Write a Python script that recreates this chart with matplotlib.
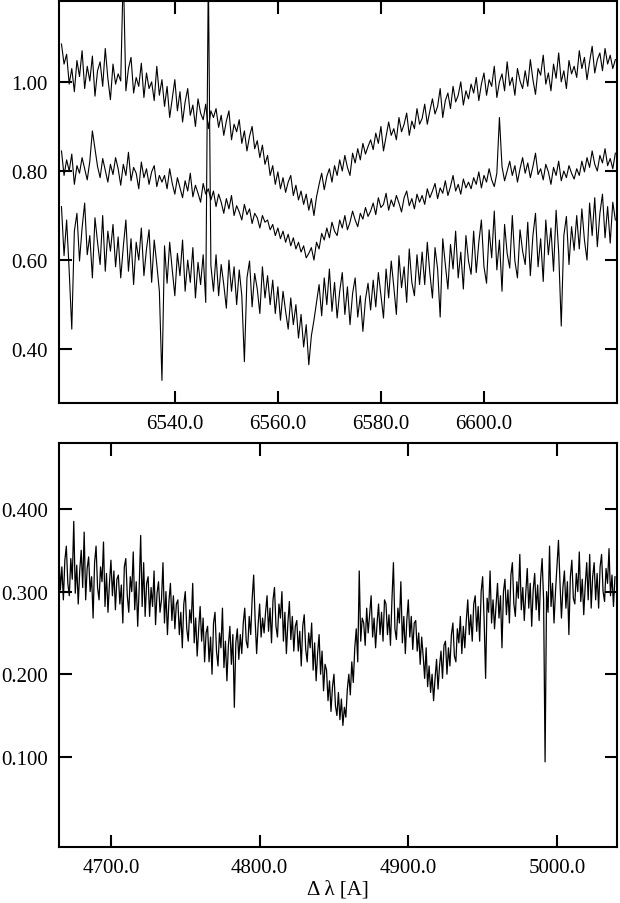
import numpy as np
import matplotlib.pyplot as plt
from matplotlib.ticker import FormatStrFormatter

# H-alpha region: three spectra, flux x 1000, sampled every 0.5 A from 6518.0
wave_ha = np.arange(6518.0, 6626.0, 0.5)

flux_a = [
    1085, 1040, 1062, 995, 1030, 978, 1048, 1012, 1070, 985, 1035, 1002, 1058, 968, 1025, 1045, 990, 1075, 1008, 960,
    1040, 995, 1018, 1002, 1250, 980, 1030, 1055, 975, 1010, 990, 1042, 965, 1020, 985, 1000, 958, 1035, 970, 1005,
    945, 990, 920, 962, 1005, 935, 978, 910, 955, 985, 925, 948, 900, 962, 930, 915, 950, 895, 935, 920,
    940, 898, 925, 880, 912, 935, 870, 905, 888, 915, 862, 890, 845, 878, 900, 850, 868, 830, 858, 815,
    835, 790, 812, 770, 798, 760, 785, 752, 775, 790, 745, 768, 735, 755, 725, 748, 712, 738, 700, 742,
    770, 795, 758, 788, 805, 775, 812, 790, 825, 800, 835, 808, 790, 840, 818, 850, 825, 862, 838, 855,
    870, 848, 885, 862, 900, 845, 878, 910, 880, 895, 870, 920, 888, 905, 930, 880, 912, 895, 940, 905,
    918, 950, 905, 935, 962, 928, 945, 985, 920, 958, 975, 940, 990, 955, 970, 1000, 948, 980, 962, 995,
    975, 1010, 958, 995, 1020, 970, 1005, 990, 1035, 965, 1000, 1018, 980, 1045, 992, 1010, 970, 1030, 1002, 985,
    1025, 990, 1050, 1005, 972, 1030, 1015, 1060, 995, 1020, 980, 1040, 1008, 1065, 1000, 1025, 985, 1048, 1018, 1035,
    1010, 1070, 1030, 1055, 1005, 1045, 1080, 1020, 1050, 1065, 1025, 1075, 1040, 1060, 1030, 1050,
]

flux_b = [
    845, 790, 825, 800, 838, 770, 812, 795, 830, 805, 780, 822, 890, 850, 810, 785, 828, 802, 775, 815,
    792, 830, 805, 768, 815, 790, 842, 778, 808, 795, 760, 820, 785, 805, 770, 798, 812, 765, 790, 775,
    790, 760, 805, 772, 748, 785, 762, 740, 778, 755, 795, 742, 768, 750, 730, 772, 748, 760, 735, 755,
    720, 748, 730, 705, 738, 715, 745, 700, 722, 708, 690, 725, 702, 715, 682, 705, 695, 672, 700, 685,
    690, 668, 680, 655, 672, 648, 665, 640, 658, 632, 650, 625, 640, 618, 632, 605, 615, 628, 600, 640,
    625, 660, 645, 672, 650, 685, 665, 655, 690, 672, 700, 668, 685, 710, 690, 675, 705, 692, 718, 698,
    710, 728, 702, 740, 718, 725, 750, 712, 735, 720, 745, 728, 708, 740, 755, 722, 738, 715, 748, 730,
    745, 725, 760, 740, 755, 772, 738, 762, 750, 778, 745, 765, 790, 755, 770, 748, 782, 762, 775, 760,
    785, 770, 798, 762, 790, 775, 805, 780, 765, 795, 920, 810, 778, 800, 822, 790, 812, 775, 805, 830,
    795, 818, 785, 810, 840, 792, 805, 780, 815, 798, 770, 808, 790, 822, 778, 800, 785, 812, 795, 782,
    805, 790, 822, 798, 830, 808, 845, 815, 800, 835, 818, 850, 812, 828, 805, 840,
]

flux_c = [
    720, 610, 690, 575, 445, 665, 705, 598, 672, 728, 612, 655, 560, 695, 640, 590, 700, 575, 665, 620,
    680, 585, 652, 560, 630, 690, 575, 648, 545, 640, 600, 672, 565, 625, 668, 550, 645, 590, 530, 330,
    632, 548, 640, 578, 520, 615, 565, 645, 530, 600, 550, 628, 515, 595, 545, 612, 505, 1250, 588, 530,
    612, 520, 590, 545, 492, 600, 530, 585, 500, 578, 520, 372, 560, 598, 495, 570, 535, 480, 585, 515,
    565, 500, 555, 480, 540, 465, 530, 485, 445, 515, 455, 500, 425, 478, 405, 455, 365, 430, 465, 505,
    545, 475, 560, 500, 580, 485, 550, 470, 530, 572, 478, 540, 455, 525, 560, 472, 520, 440, 512, 548,
    488, 555, 495, 572, 520, 470, 580, 515, 598, 540, 478, 610, 538, 585, 505, 625, 550, 520, 612, 545,
    618, 545, 640, 570, 515, 628, 580, 472, 648, 590, 535, 635, 580, 665, 560, 618, 535, 655, 598, 568,
    665, 572, 640, 690, 585, 548, 668, 605, 710, 578, 645, 530, 680, 615, 582, 700, 598, 560, 668, 620,
    590, 685, 565, 655, 705, 585, 648, 552, 690, 612, 672, 575, 712, 618, 452, 655, 698, 590, 675, 622,
    700, 625, 715, 645, 600, 728, 655, 740, 630, 705, 748, 650, 720, 638, 730, 690,
]

# H-beta region, flux x 1000, sampled every 1 A from 4665
wave_hb = np.arange(4665.0, 5040.0, 1.0)

flux_hb = [
    345, 302, 330, 290, 338, 355, 310, 295, 340, 315, 385, 298, 332, 285, 325, 350, 305, 372, 290, 328,
    342, 300, 318, 268, 335, 355, 305, 290, 330, 312, 360, 282, 322, 275, 310, 338, 295, 325, 278, 315,
    320, 285, 308, 262, 330, 340, 295, 275, 318, 300, 348, 278, 312, 258, 305, 368, 282, 335, 270, 310,
    318, 270, 305, 282, 325, 260, 298, 312, 275, 290, 335, 262, 300, 248, 288, 310, 265, 295, 255, 285,
    290, 248, 275, 232, 285, 300, 255, 240, 278, 262, 310, 238, 268, 222, 255, 282, 240, 268, 215, 250,
    258, 215, 245, 200, 262, 275, 228, 210, 250, 232, 280, 208, 240, 192, 235, 258, 212, 248, 160, 238,
    255, 218, 248, 225, 262, 280, 240, 232, 270, 248, 292, 320, 265, 225, 260, 285, 245, 268, 250, 275,
    295, 252, 280, 238, 290, 305, 258, 245, 285, 268, 300, 240, 275, 225, 262, 288, 242, 270, 228, 258,
    265, 228, 252, 210, 258, 272, 230, 215, 250, 232, 262, 205, 238, 192, 225, 248, 200, 228, 180, 212,
    205, 168, 192, 155, 185, 200, 162, 150, 178, 145, 170, 138, 160, 148, 182, 200, 175, 215, 190, 232,
    255, 215, 325, 240, 268, 262, 235, 280, 250, 272, 295, 245, 268, 232, 262, 285, 248, 275, 240, 290,
    285, 248, 272, 235, 290, 335, 255, 242, 280, 262, 312, 238, 270, 225, 265, 290, 245, 270, 230, 262,
    265, 228, 250, 212, 245, 222, 195, 232, 185, 210, 178, 200, 168, 195, 218, 182, 210, 228, 195, 235,
    240, 200, 232, 210, 248, 262, 222, 215, 255, 238, 270, 225, 258, 232, 265, 290, 248, 272, 240, 285,
    295, 252, 282, 240, 300, 318, 265, 195, 292, 275, 325, 262, 290, 255, 282, 310, 268, 295, 232, 300,
    315, 272, 302, 262, 320, 335, 285, 270, 312, 292, 345, 278, 305, 265, 298, 328, 280, 310, 258, 302,
    322, 278, 308, 265, 315, 340, 290, 94, 300, 275, 355, 282, 310, 262, 300, 330, 362, 312, 268, 305,
    325, 280, 312, 248, 318, 338, 292, 285, 322, 300, 348, 288, 315, 272, 308, 335, 290, 345, 280, 318,
    335, 290, 322, 280, 330, 345, 300, 288, 328, 310, 352, 295, 320, 282, 318,
]

plt.rcParams['font.family'] = ['Liberation Serif', 'DejaVu Serif']
plt.rcParams['font.size'] = 15

fig = plt.figure(figsize=(6.2, 9.04), dpi=100)
ax1 = fig.add_axes([0.095, 0.553, 0.9, 0.445])
ax2 = fig.add_axes([0.095, 0.062, 0.9, 0.447])

for f in (flux_a, flux_b, flux_c):
    ax1.plot(wave_ha, np.array(f) / 1000.0, color='black', lw=0.8)
ax1.set_xlim(6517.5, 6625.8)
ax1.set_ylim(0.279, 1.182)
ax1.set_xticks([6540, 6560, 6580, 6600])
ax1.set_yticks([0.4, 0.6, 0.8, 1.0])
ax1.xaxis.set_major_formatter(FormatStrFormatter('%.1f'))
ax1.yaxis.set_major_formatter(FormatStrFormatter('%.2f'))

ax2.plot(wave_hb, np.array(flux_hb) / 1000.0, color='black', lw=0.9)
ax2.set_xlim(4665, 5040.3)
ax2.set_ylim(-0.009, 0.48)
ax2.set_xticks([4700, 4800, 4900, 5000])
ax2.set_yticks([0.1, 0.2, 0.3, 0.4])
ax2.xaxis.set_major_formatter(FormatStrFormatter('%.1f'))
ax2.yaxis.set_major_formatter(FormatStrFormatter('%.3f'))
ax2.set_xlabel('Δ λ [A]', labelpad=2)

for ax in (ax1, ax2):
    ax.tick_params(direction='in', top=True, right=True, length=9, width=1.5, pad=8)
    for s in ax.spines.values():
        s.set_linewidth(1.5)

fig.savefig('out.png', dpi=100)
